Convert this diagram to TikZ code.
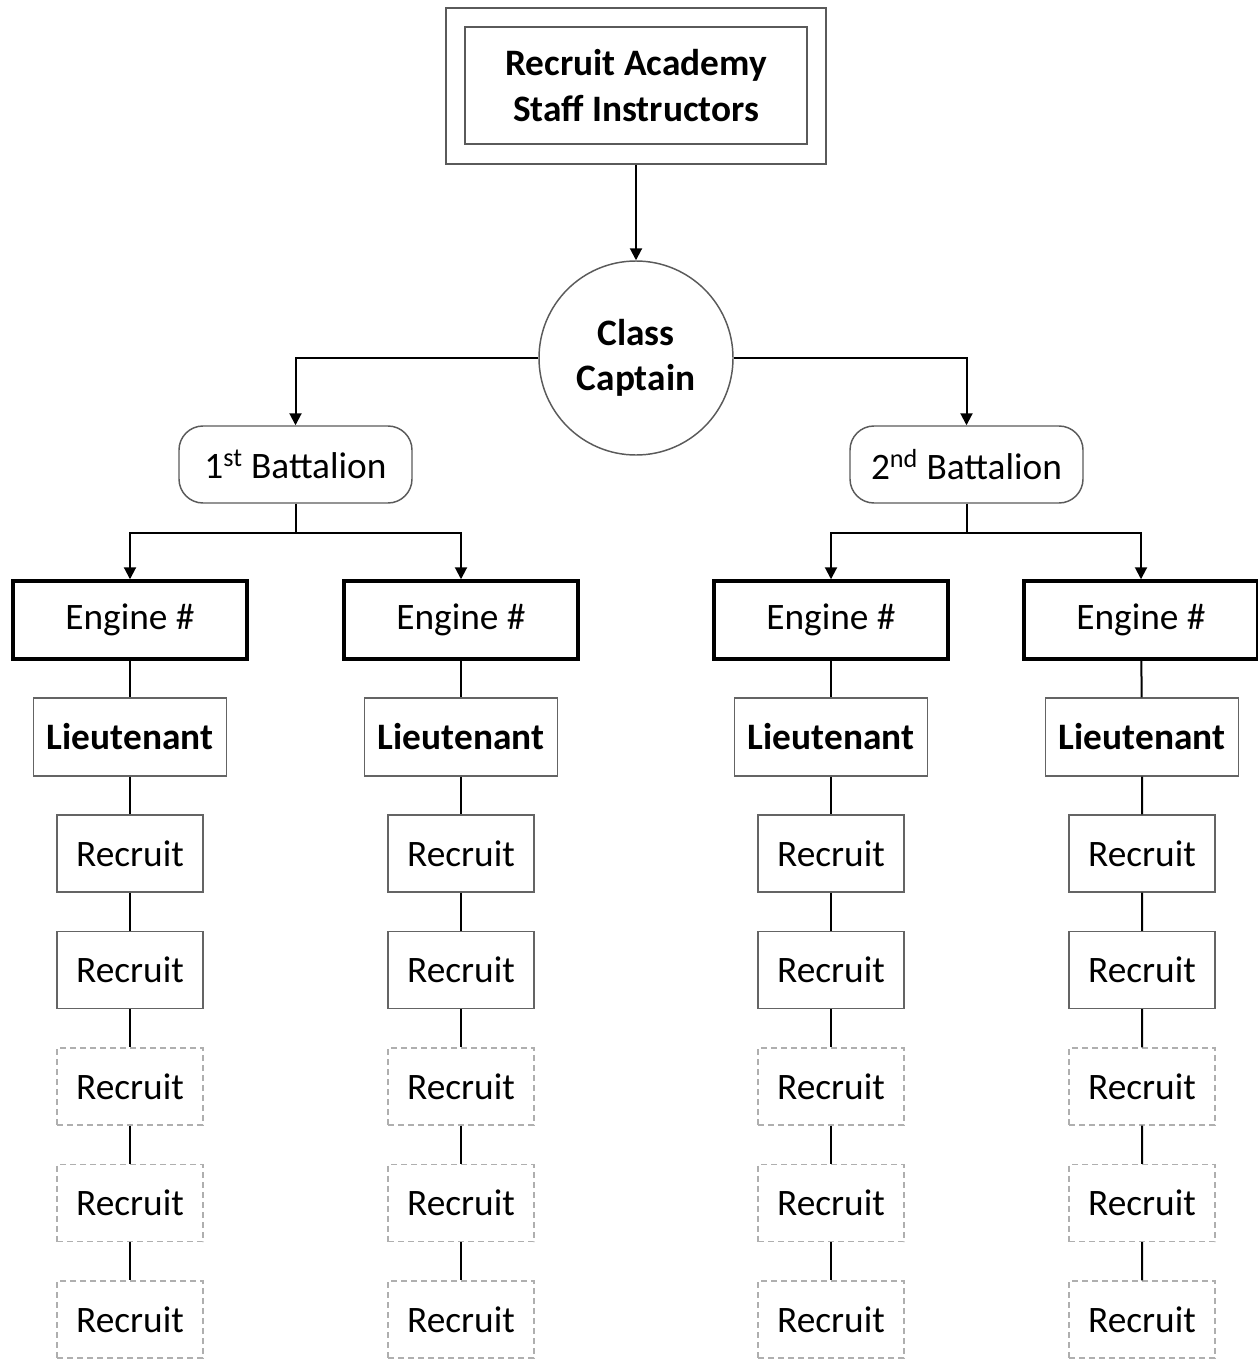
\documentclass[tikz,border=0pt]{standalone}
\usepackage{fontspec}
\setmainfont{Carlito}
\usetikzlibrary{arrows.meta}

\tikzset{every picture/.style={line width=0.75pt}}
\tikzset{
  txt/.style={font=\fontsize{28}{34}\selectfont},
  boldtxt/.style={font=\fontsize{28}{34}\selectfont\bfseries},
  staffbox/.style={draw={rgb, 255:red, 90; green, 90; blue, 90 }, line width=1.1pt, inner sep=0pt, align=center, boldtxt},
  captaincircle/.style={circle, draw={rgb, 255:red, 90; green, 90; blue, 90 }, line width=1.1pt, minimum size=145.5pt, inner sep=0pt, align=center, boldtxt},
  battalionbox/.style={draw={rgb, 255:red, 90; green, 90; blue, 90 }, line width=1.1pt, rounded corners=18pt, minimum width=174.75pt, minimum height=57.75pt, inner sep=0pt, txt},
  enginebox/.style={draw=black, line width=2.6pt, minimum width=175.5pt, minimum height=58.5pt, inner sep=0pt, txt},
  ltbox/.style={draw={rgb, 255:red, 100; green, 100; blue, 100 }, line width=1.1pt, minimum width=144.75pt, minimum height=58.5pt, inner sep=0pt, boldtxt},
  recruitbox/.style={draw={rgb, 255:red, 100; green, 100; blue, 100 }, line width=1.1pt, minimum width=109.5pt, minimum height=57.75pt, inner sep=0pt, txt},
  sparebox/.style={recruitbox, draw={rgb, 255:red, 175; green, 175; blue, 175 }, dash pattern=on 4.5pt off 3pt},
  link/.style={draw=black, line width=1.5pt},
  arr/.style={link, -{Triangle[length=9pt,width=9pt]}}
}

\begin{document}
\begin{tikzpicture}[x=0.75pt,y=0.75pt,yscale=-1,xscale=1]
    \useasboundingbox (0,0) rectangle (1257,1359);

    % Staff box (double frame)
    \node [staffbox, minimum width=285pt, minimum height=117pt] (staffout) at (636,86) {};
    \node [staffbox, minimum width=256.5pt, minimum height=87.75pt] (staff) at (636,85.5) {Recruit Academy\\Staff Instructors};
    % Class captain
    \node [captaincircle] (captain) at (636,358) {Class\\Captain};
    % Battalions
    \node [battalionbox] (bat1) at (295.5,464.5) {1\textsuperscript{st} Battalion};
    \node [battalionbox] (bat2) at (966.5,464.5) {2\textsuperscript{nd} Battalion};
    \coordinate (split1) at (295.5,533);
    \coordinate (split2) at (966.5,533);

    % Engines
    \node [enginebox] (eng1) at (130,620) {Engine \#};
    \node [enginebox] (eng2) at (461,620) {Engine \#};
    \node [enginebox] (eng3) at (831,620) {Engine \#};
    \node [enginebox] (eng4) at (1141,620) {Engine \#};

    % Lieutenants
    \node [ltbox] (lt1) at (130,737) {Lieutenant};
    \node [ltbox] (lt2) at (461,737) {Lieutenant};
    \node [ltbox] (lt3) at (831,737) {Lieutenant};
    \node [ltbox] (lt4) at (1142,737) {Lieutenant};

    % Recruits, column 1
    \node [recruitbox] (r1a) at (130,853.5) {Recruit};
    \node [recruitbox] (r1b) at (130,970) {Recruit};
    \node [sparebox] (r1c) at (130,1086.5) {Recruit};
    \node [sparebox] (r1d) at (130,1203) {Recruit};
    \node [sparebox] (r1e) at (130,1319.5) {Recruit};
    % Recruits, column 2
    \node [recruitbox] (r2a) at (461,853.5) {Recruit};
    \node [recruitbox] (r2b) at (461,970) {Recruit};
    \node [sparebox] (r2c) at (461,1086.5) {Recruit};
    \node [sparebox] (r2d) at (461,1203) {Recruit};
    \node [sparebox] (r2e) at (461,1319.5) {Recruit};
    % Recruits, column 3
    \node [recruitbox] (r3a) at (831,853.5) {Recruit};
    \node [recruitbox] (r3b) at (831,970) {Recruit};
    \node [sparebox] (r3c) at (831,1086.5) {Recruit};
    \node [sparebox] (r3d) at (831,1203) {Recruit};
    \node [sparebox] (r3e) at (831,1319.5) {Recruit};
    % Recruits, column 4
    \node [recruitbox] (r4a) at (1142,853.5) {Recruit};
    \node [recruitbox] (r4b) at (1142,970) {Recruit};
    \node [sparebox] (r4c) at (1142,1086.5) {Recruit};
    \node [sparebox] (r4d) at (1142,1203) {Recruit};
    \node [sparebox] (r4e) at (1142,1319.5) {Recruit};

    % Connectors
    \draw [arr] (staffout.south) -- (captain.north);
    \draw [arr] (captain.west) -| (bat1.north);
    \draw [arr] (captain.east) -| (bat2.north);
    \draw [link] (bat1.south) -- (split1);
    \draw [arr] (split1) -| (eng1.north);
    \draw [arr] (split1) -| (eng2.north);
    \draw [link] (bat2.south) -- (split2);
    \draw [arr] (split2) -| (eng3.north);
    \draw [arr] (split2) -| (eng4.north);

    \draw [link] (eng1) -- (lt1) -- (r1a) -- (r1b) -- (r1c) -- (r1d) -- (r1e);
    \draw [link] (eng2) -- (lt2) -- (r2a) -- (r2b) -- (r2c) -- (r2d) -- (r2e);
    \draw [link] (eng3) -- (lt3) -- (r3a) -- (r3b) -- (r3c) -- (r3d) -- (r3e);
    \draw [link] (eng4) -- (lt4) -- (r4a) -- (r4b) -- (r4c) -- (r4d) -- (r4e);

\end{tikzpicture}
\end{document}
